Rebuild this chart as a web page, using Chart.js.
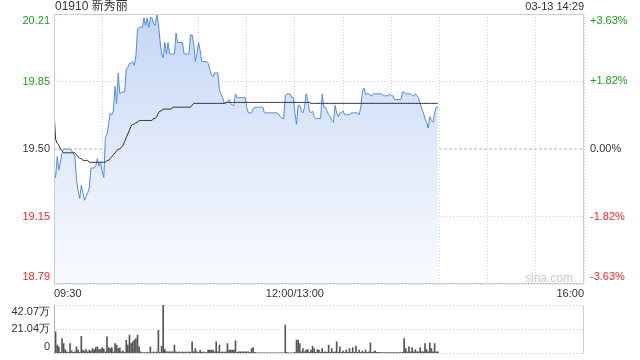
<!DOCTYPE html>
<html><head><meta charset="utf-8">
<script src="https://cdn.jsdelivr.net/npm/chart.js@4"></script>
<style>
html,body{margin:0;padding:0;background:#fff;}
#wrap{position:relative;width:640px;height:360px;}
canvas{position:absolute;left:0;top:0;}
</style></head><body>
<div id="wrap"><canvas id="price" width="640" height="360"></canvas><canvas id="vol" width="640" height="360"></canvas></div>
<script>
// ---------- data ----------
const stockCode = '01910';
const stockName = '新秀丽';
const stampText = '03-13 14:29';
const watermark = 'sina.com';
const prevClose = 19.50;
const sessionMinutes = 330;               // 09:30-12:00 + 13:00-16:00
const timeTickLabels = {0: '09:30', 150: '12:00/13:00', 330: '16:00'};
const priceTickValues = [18.79, 19.145, 19.50, 19.855, 20.21];
const priceTickLabels = ['18.79', '19.15', '19.50', '19.85', '20.21'];
const pctTickValues = [-3.63, -1.82, 0, 1.82, 3.63];
const pctTickLabels = ['-3.63%', '-1.82%', '0.00%', '+1.82%', '+3.63%'];
const volTickValues = [0, 21.04, 42.07];
const volTickLabels = ['0', '21.04万', '42.07万'];

// one value per trading minute (09:30 ... 14:29)
const prices = [
 19.39,19.35,19.46,19.39,19.43,19.48,19.50,19.50,19.50,19.50,
 19.50,19.49,19.48,19.46,19.34,19.28,19.24,19.31,19.27,19.23,
 19.25,19.27,19.30,19.40,19.40,19.40,19.41,19.45,19.41,19.43,
 19.38,19.35,19.56,19.58,19.63,19.69,19.68,19.70,19.83,19.74,
 19.90,19.79,19.80,19.80,19.80,19.92,19.93,19.95,19.95,19.96,
 19.94,19.99,20.13,20.14,20.14,20.14,20.19,20.15,20.19,20.14,
 20.19,20.19,20.16,20.15,20.21,20.16,20.07,20.00,19.98,20.06,
 20.00,20.06,20.00,20.00,20.00,20.00,20.11,20.06,20.06,20.06,
 20.06,20.00,20.00,20.00,20.00,20.10,20.10,20.05,19.96,20.00,
 20.06,20.02,19.96,19.96,19.96,19.96,19.95,19.92,19.89,19.88,
 19.90,19.90,19.90,19.81,19.79,19.77,19.74,19.74,19.75,19.76,
 19.74,19.73,19.73,19.79,19.77,19.77,19.77,19.77,19.77,19.77,
 19.72,19.69,19.69,19.69,19.71,19.72,19.72,19.72,19.72,19.72,
 19.72,19.69,19.69,19.69,19.69,19.69,19.69,19.69,19.69,19.69,
 19.68,19.67,19.66,19.66,19.78,19.79,19.79,19.79,19.77,19.77,
 19.69,19.63,19.73,19.73,19.70,19.69,19.72,19.79,19.76,19.70,
 19.69,19.70,19.67,19.66,19.66,19.66,19.66,19.79,19.72,19.72,
 19.70,19.68,19.67,19.65,19.64,19.73,19.69,19.67,19.69,19.69,
 19.70,19.68,19.68,19.68,19.68,19.69,19.69,19.69,19.69,19.69,
 19.68,19.72,19.80,19.82,19.79,19.79,19.79,19.78,19.78,19.79,
 19.79,19.79,19.79,19.79,19.79,19.78,19.78,19.78,19.78,19.79,
 19.78,19.78,19.76,19.76,19.76,19.76,19.76,19.80,19.80,19.79,
 19.79,19.79,19.79,19.78,19.78,19.79,19.78,19.77,19.74,19.71,
 19.69,19.66,19.64,19.61,19.67,19.65,19.64,19.69,19.72,19.72
];
const avgPrices = [
 19.70,19.55,19.53,19.52,19.50,19.49,19.48,19.48,19.48,19.48,
 19.48,19.48,19.48,19.48,19.47,19.46,19.45,19.45,19.44,19.44,
 19.44,19.44,19.43,19.43,19.43,19.43,19.43,19.43,19.43,19.43,
 19.43,19.43,19.43,19.44,19.44,19.45,19.46,19.47,19.48,19.49,
 19.50,19.50,19.51,19.52,19.54,19.56,19.58,19.60,19.62,19.63,
 19.63,19.64,19.64,19.65,19.65,19.65,19.65,19.65,19.65,19.65,
 19.65,19.65,19.66,19.66,19.67,19.69,19.70,19.70,19.71,19.71,
 19.71,19.71,19.71,19.71,19.72,19.72,19.72,19.72,19.72,19.72,
 19.72,19.72,19.72,19.72,19.72,19.72,19.73,19.74,19.74,19.74,
 19.74,19.74,19.74,19.74,19.74,19.74,19.74,19.74,19.74,19.74,
 19.74,19.74,19.74,19.74,19.74,19.74,19.74,19.745,19.745,19.745,
 19.745,19.745,19.745,19.745,19.745,19.745,19.745,19.745,19.745,19.745,
 19.745,19.745,19.745,19.745,19.745,19.745,19.745,19.745,19.745,19.745,
 19.745,19.745,19.745,19.745,19.745,19.745,19.745,19.745,19.745,19.745,
 19.745,19.745,19.745,19.745,19.745,19.745,19.745,19.745,19.745,19.745,
 19.745,19.745,19.745,19.745,19.745,19.745,19.745,19.745,19.745,19.745,
 19.74,19.74,19.74,19.74,19.74,19.74,19.74,19.74,19.74,19.74,
 19.74,19.74,19.74,19.74,19.74,19.74,19.74,19.74,19.74,19.74,
 19.74,19.74,19.74,19.74,19.74,19.74,19.74,19.74,19.74,19.74,
 19.74,19.74,19.74,19.74,19.74,19.74,19.74,19.74,19.74,19.74,
 19.74,19.74,19.74,19.74,19.74,19.74,19.74,19.74,19.74,19.74,
 19.74,19.74,19.74,19.74,19.74,19.74,19.74,19.74,19.74,19.74,
 19.74,19.74,19.74,19.74,19.74,19.74,19.74,19.74,19.74,19.74,
 19.74,19.74,19.74,19.74,19.74,19.74,19.74,19.74,19.74,19.74
];
// volume per minute, in 万 shares
const volumes = [
 24.6,18.8,7.2,5.8,1.0,13.0,8.7,3.4,1.4,1.0,
 8.7,2.3,1.0,1.4,5.8,2.9,1.0,15.0,2.9,2.0,
 3.4,1.4,2.9,2.0,4.3,3.4,5.2,5.8,3.4,3.7,
 5.2,4.0,1.4,14.4,5.2,4.3,5.2,1.4,8.7,7.2,
 4.3,4.9,1.4,2.3,1.0,11.6,7.2,15.9,8.7,10.1,
 11.6,13.0,15.9,5.8,1.4,0.9,0.9,0.9,0.9,0.9,
 5.8,0.9,1.4,0.9,1.4,20.2,0.9,6.4,41.9,3.4,
 1.4,1.4,1.4,1.4,1.4,7.2,1.4,1.0,1.4,0.9,
 1.4,1.0,1.4,0.9,1.4,1.0,10.1,1.4,4.3,1.4,
 1.0,2.9,1.0,1.4,0.9,1.0,2.9,2.9,2.9,2.9,
 1.4,10.1,1.4,7.2,1.0,1.4,1.0,1.4,8.7,2.9,
 2.9,2.9,2.9,11.0,1.0,1.4,1.4,1.4,1.4,1.4,
 1.4,1.4,1.0,4.3,5.2,1.0,0.6,0.6,0.6,0.6,
 0.6,0.6,0.6,0.6,0.6,0.6,0.6,0.6,0.6,0.6,
 0.6,0.6,0.6,0.6,24.6,1.0,0.6,0.6,0.6,0.6,
 1.0,11.6,11.6,8.7,1.4,4.3,1.4,2.9,3.4,1.0,
 2.9,6.4,4.3,1.0,3.4,2.9,1.0,4.3,1.0,1.4,
 1.0,7.2,1.0,4.3,1.0,1.4,10.1,1.0,5.8,1.0,
 2.0,1.0,2.9,1.0,4.3,1.0,5.2,1.0,6.4,1.0,
 2.9,1.0,2.0,1.0,2.9,1.0,1.4,9.2,1.0,1.4,
 2.3,1.0,1.0,0.9,0.9,0.9,0.9,0.9,0.9,0.9,
 0.9,0.9,0.9,0.9,0.9,0.9,0.9,1.0,13.0,4.3,
 1.4,5.8,1.4,5.2,1.4,3.4,1.4,1.4,5.2,1.4,
 1.4,8.7,3.4,1.4,9.2,4.3,1.4,8.7,1.4,1.4
];

// ---------- styling ----------
const FONT = "'Liberation Sans', Arial, Helvetica, sans-serif";
Chart.defaults.font.family = FONT;
Chart.defaults.font.size = 11;
Chart.defaults.color = '#333';
const GREEN = '#1a9e1a', RED = '#ee2424', DARK = '#333333';
const GRID = '#cfcfcf';

function signColor(d) { return d > 1e-9 ? GREEN : (d < -1e-9 ? RED : DARK); }
function shiftEdge(label, index, count) {
  if (index === count - 1) return ['', label];
  if (index === 0) return [label, ''];
  return label;
}
function fixWidth(w) {
  return (s) => { s.width = w; s.paddingTop = 0; s.paddingBottom = 0; };
}
function fixHeight(h) {
  return (s) => { s.height = h; s.paddingLeft = 0; s.paddingRight = 0; };
}

const framePlugin = {
  id: 'frame',
  afterDraw(chart, args, o) {
    const a = chart.chartArea, c = chart.ctx;
    const L = Math.round(a.left) + 0.5, R = Math.round(a.right) - 0.5;
    const T = Math.round(a.top) + 0.5, B = Math.round(a.bottom) - 0.5;
    c.save(); c.lineWidth = 1;
    (o.sides || []).forEach(s => {
      c.strokeStyle = s.color;
      c.beginPath();
      if (s.side === 't') { c.moveTo(L, T); c.lineTo(R, T); }
      if (s.side === 'b') { c.moveTo(L, B); c.lineTo(R, B); }
      if (s.side === 'l') { c.moveTo(L, T); c.lineTo(L, B); }
      if (s.side === 'r') { c.moveTo(R, T); c.lineTo(R, B); }
      c.stroke();
    });
    c.restore();
  }
};

const textPlugin = {
  id: 'texts',
  afterDraw(chart) {
    const c = chart.ctx, a = chart.chartArea;
    c.save();
    c.textBaseline = 'middle';
    c.fillStyle = '#333';
    c.textAlign = 'left';
    c.font = "12px " + FONT + ", 'Noto Sans CJK SC'";
    c.fillText(stockCode + ' ' + stockName, a.left + 1, a.top - 7);
    c.textAlign = 'right';
    c.font = "11px " + FONT;
    c.fillText(stampText, a.right, a.top - 7);
    c.fillStyle = '#c9c9c9';
    c.font = "12px " + FONT;
    c.fillText(watermark, a.right - 11, a.bottom - 5);
    c.restore();
  }
};

const pricePts = prices.map((p, i) => ({x: i, y: p}));
const avgPts = avgPrices.map((p, i) => ({x: i, y: p}));
const closePts = [{x: 0, y: prevClose}, {x: sessionMinutes, y: prevClose}];
const volPts = volumes.map((v, i) => ({x: i, y: v}));

new Chart(document.getElementById('price'), {
  type: 'line',
  data: {
    datasets: [
      {data: avgPts, borderColor: '#2d2d2d', borderWidth: 1, pointRadius: 0, fill: false, order: 1},
      {data: pricePts, borderColor: '#4f8be6', borderWidth: 1, pointRadius: 0, order: 2,
       fill: 'start',
       backgroundColor: (ctx) => {
         const a = ctx.chart.chartArea;
         if (!a) return 'rgba(200,216,245,0.6)';
         const g = ctx.chart.ctx.createLinearGradient(0, a.top, 0, a.bottom);
         g.addColorStop(0, '#c4d6f5');
         g.addColorStop(0.5, '#e1eafa');
         g.addColorStop(1, '#f8fafe');
         return g;
       }},
      {data: closePts, borderColor: '#b5b5b5', borderWidth: 1, borderDash: [3, 2], pointRadius: 0, fill: false, order: 3}
    ]
  },
  options: {
    responsive: false, animation: false, events: [],
    layout: {padding: {top: 14, bottom: 60, left: 0, right: 0}},
    plugins: {legend: {display: false}, tooltip: {enabled: false},
      frame: {sides: [{side: 't', color: '#cccccc'}, {side: 'b', color: '#cccccc'}, {side: 'l', color: '#cccccc'}, {side: 'r', color: '#cccccc'}]}},
    elements: {line: {tension: 0}},
    scales: {
      x: {
        type: 'linear', position: 'bottom', min: 0, max: sessionMinutes,
        afterFit: fixHeight(16),
        grid: {color: GRID, drawTicks: false},
        border: {display: false, dash: [1, 2]},
        ticks: {stepSize: 30, autoSkip: false, maxRotation: 0, align: 'inner', padding: 3, color: '#333',
          callback: (v) => timeTickLabels[v] ?? ''}
      },
      y: {
        type: 'linear', position: 'left', min: priceTickValues[0], max: priceTickValues[priceTickValues.length - 1],
        afterBuildTicks: (s) => { s.ticks = priceTickValues.map(v => ({value: v})); },
        afterFit: fixWidth(54),
        grid: {drawTicks: false, color: (ctx) => (ctx.tick && Math.abs(ctx.tick.value - prevClose) < 1e-6) ? 'rgba(0,0,0,0)' : GRID},
        border: {display: false, dash: [1, 2]},
        ticks: {padding: 4, autoSkip: false,
          color: (ctx) => ctx.tick ? signColor(ctx.tick.value - prevClose) : DARK,
          callback: (v, i, t) => shiftEdge(priceTickLabels[i], i, t.length)}
      },
      y2: {
        type: 'linear', position: 'right', min: pctTickValues[0], max: pctTickValues[pctTickValues.length - 1],
        afterBuildTicks: (s) => { s.ticks = pctTickValues.map(v => ({value: v})); },
        afterFit: fixWidth(56),
        grid: {display: false, drawTicks: false},
        border: {display: false},
        ticks: {padding: 6, autoSkip: false,
          color: (ctx) => ctx.tick ? signColor(ctx.tick.value) : DARK,
          callback: (v, i, t) => shiftEdge(pctTickLabels[i], i, t.length)}
      }
    }
  },
  plugins: [framePlugin, textPlugin]
});

new Chart(document.getElementById('vol'), {
  type: 'bar',
  data: {datasets: [{data: volPts, backgroundColor: '#555555', borderWidth: 0, barThickness: 1}]},
  options: {
    responsive: false, animation: false, events: [],
    layout: {padding: {top: 305, bottom: 6.5, left: 0, right: 56}},
    plugins: {legend: {display: false}, tooltip: {enabled: false},
      frame: {sides: [{side: 'l', color: '#b5b5b5'}, {side: 'r', color: '#cccccc'}]}},
    scales: {
      x: {type: 'linear', min: 0, max: sessionMinutes, display: false, offset: false},
      y: {
        type: 'linear', position: 'left', min: volTickValues[0], max: volTickValues[volTickValues.length - 1],
        afterBuildTicks: (s) => { s.ticks = volTickValues.map(v => ({value: v})); },
        afterFit: fixWidth(54),
        grid: {color: GRID, drawTicks: false},
        border: {display: false, dash: [1, 2]},
        ticks: {padding: 4, autoSkip: false, color: '#333',
          callback: (v, i, t) => shiftEdge(volTickLabels[i], i, t.length)}
      }
    }
  },
  plugins: [framePlugin]
});
</script>
</body></html>
